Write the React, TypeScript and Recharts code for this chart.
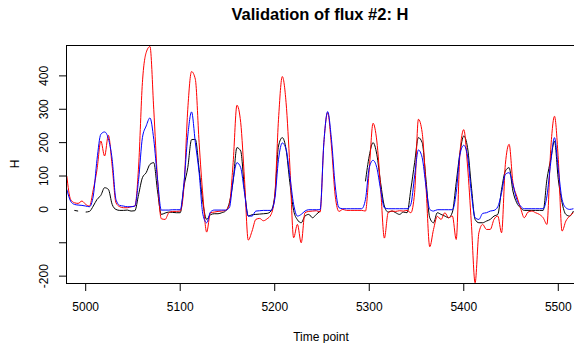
import React from 'react';
import { LineChart, Line, XAxis, YAxis } from 'recharts';

const times = [4980,4984,4988,4992,4996,5000,5004,5008,5012,5016,5020,5024,5028,5032,5036,5040,5044,5048,5052,5056,5060,5064,5068,5072,5076,5080,5084,5088,5092,5096,5100,5104,5108,5112,5116,5120,5124,5128,5132,5136,5140,5144,5148,5152,5156,5160,5164,5168,5172,5176,5180,5184,5188,5192,5196,5200,5204,5208,5212,5216,5220,5224,5228,5232,5236,5240,5244,5248,5252,5256,5260,5264,5268,5272,5276,5280,5284,5288,5292,5296,5300,5304,5308,5312,5316,5320,5324,5328,5332,5336,5340,5344,5348,5352,5356,5360,5364,5368,5372,5376,5380,5384,5388,5392,5396,5400,5404,5408,5412,5416,5420,5424,5428,5432,5436,5440,5444,5448,5452,5456,5460,5464,5468,5472,5476,5480,5484,5488,5492,5496,5500,5504,5508,5512,5516];

const blackSeries: (number | null)[] = [null,null,-3,-5,null,-8,-6,10,30,42,65,60,15,0,-3,-3,-2,-5,-4,45,95,110,135,140,55,-15,-11,-8,-9,-10,-10,70,125,209,210,120,20,-30,-16,-13,-13,-10,-5,20,85,185,175,60,-20,-16,-15,-14,-13,-12,-5,40,190,215,180,80,-3,-31,-40,-20,-15,-25,-15,-5,null,null,null,null,null,null,null,null,null,null,null,84,160,200,165,80,10,-8,-5,-10,-15,-8,-10,60,140,215,200,90,-25,-40,-10,-15,-20,-25,-8,80,170,220,185,70,-30,-40,-40,-35,-30,-20,-15,60,115,125,55,20,5,-3,-3,-3,-3,-3,-3,90,150,205,90,20,-15,-20,-5];

const redSeries = [100,30,20,18,25,15,10,59,120,205,160,222,130,20,8,5,5,8,10,130,380,470,488,300,90,-28,-30,-10,-6,-6,-5,70,300,413,390,200,40,-68,-10,-8,-6,-5,-3,15,140,312,260,90,-92,-65,-30,-27,-34,-28,-16,40,270,398,320,130,-85,-45,-100,-10,-6,-5,-4,-8,200,290,190,40,-6,0,-3,-3,-3,-3,-3,-5,120,258,205,65,-86,-10,-5,-6,-4,-5,-3,-10,50,270,230,70,-112,-60,-21,-30,-10,-25,-20,-90,170,239,130,-40,-220,-70,-45,-60,-60,-30,-20,-70,135,195,80,40,5,-25,-8,-5,-10,-15,-25,-45,180,279,150,-65,-35,-20,-10];

const blueSeries = [60,25,15,13,12,10,8,40,150,225,232,212,150,30,12,10,8,8,10,90,215,250,274,210,90,-2,-2,-2,-1,-1,-1,80,220,292,200,110,-15,-40,-8,-2,-2,-2,-2,5,89,140,125,50,-20,-20,-5,-4,-3,-3,-3,30,150,199,180,100,15,-20,-15,-5,-1,-1,-1,-1,200,293,210,70,5,2,2,2,2,2,2,30,125,147,125,60,5,2,2,2,2,2,2,15,100,178,155,70,0,-5,-1,-1,-1,-1,-1,50,165,192,160,50,-25,-30,-12,-10,-5,-3,8,50,105,110,75,30,10,2,2,2,2,2,2,40,140,215,120,30,5,0,2];

const xTicks = [5000, 5100, 5200, 5300, 5400, 5500];
const yTicks = [-200, -100, 0, 100, 200, 300, 400];
const yTickLabels = ['-200', '', '0', '100', '200', '300', '400'];

const titleText = 'Validation of flux #2: H';
const xLabel = 'Time point';
const yLabel = 'H';

const data = times.map((t, i) => ({
  t,
  black: blackSeries[i],
  red: redSeries[i],
  blue: blueSeries[i],
}));

const FONT = '"Liberation Sans", Arial, Helvetica, sans-serif';

const XTick = (p: any) => (
  <text x={p.x} y={311} textAnchor="middle" fontSize={12} fontFamily={FONT} fill="#000">
    {p.payload.value}
  </text>
);

const YTick = (p: any) => {
  const idx = yTicks.indexOf(p.payload.value);
  const label = idx >= 0 ? yTickLabels[idx] : '';
  if (!label) return <g />;
  return (
    <text
      x={48.5}
      y={p.y}
      transform={`rotate(-90 48.5 ${p.y})`}
      textAnchor="middle"
      fontSize={12}
      fontFamily={FONT}
      fill="#000"
    >
      {label}
    </text>
  );
};

export default function App() {
  return (
    <div style={{ position: 'absolute', left: 0, top: 0, width: 574, height: 343, overflow: 'hidden', background: '#fff' }}>
      <LineChart width={577} height={343} data={data} margin={{ top: 45, right: 0, bottom: 0, left: 0 }}>
        <XAxis
          dataKey="t"
          type="number"
          domain={[4979.16, 5519.8]}
          allowDataOverflow
          ticks={xTicks}
          height={59}
          axisLine={false}
          tickLine={{ stroke: '#000' }}
          stroke="#000"
          tickSize={7}
          tick={XTick}
          interval={0}
        />
        <YAxis
          type="number"
          domain={[-223.5, 492.5]}
          allowDataOverflow
          ticks={yTicks}
          width={66}
          axisLine={false}
          tickLine={{ stroke: '#000' }}
          stroke="#000"
          tickSize={7}
          tick={YTick}
          interval={0}
        />
        <Line dataKey="black" stroke="#000000" strokeWidth={1} dot={false} activeDot={false} isAnimationActive={false} connectNulls={false} type="monotone" />
        <Line dataKey="red" stroke="#FF0000" strokeWidth={1} dot={false} activeDot={false} isAnimationActive={false} type="monotone" />
        <Line dataKey="blue" stroke="#0000FF" strokeWidth={1} dot={false} activeDot={false} isAnimationActive={false} type="monotone" />
      </LineChart>
      <svg width={574} height={343} style={{ position: 'absolute', left: 0, top: 0, pointerEvents: 'none' }}>
        <rect x={66.5} y={45.5} width={520} height={238} fill="none" stroke="#000" strokeWidth={1} />
        <text x={320} y={19.5} textAnchor="middle" fontSize={16.5} fontWeight="bold" fontFamily={FONT} fill="#000">
          {titleText}
        </text>
        <text x={321} y={340.5} textAnchor="middle" fontSize={12} fontFamily={FONT} fill="#000">
          {xLabel}
        </text>
        <text x={18.5} y={164} transform="rotate(-90 18.5 164)" textAnchor="middle" fontSize={12} fontFamily={FONT} fill="#000">
          {yLabel}
        </text>
      </svg>
    </div>
  );
}
